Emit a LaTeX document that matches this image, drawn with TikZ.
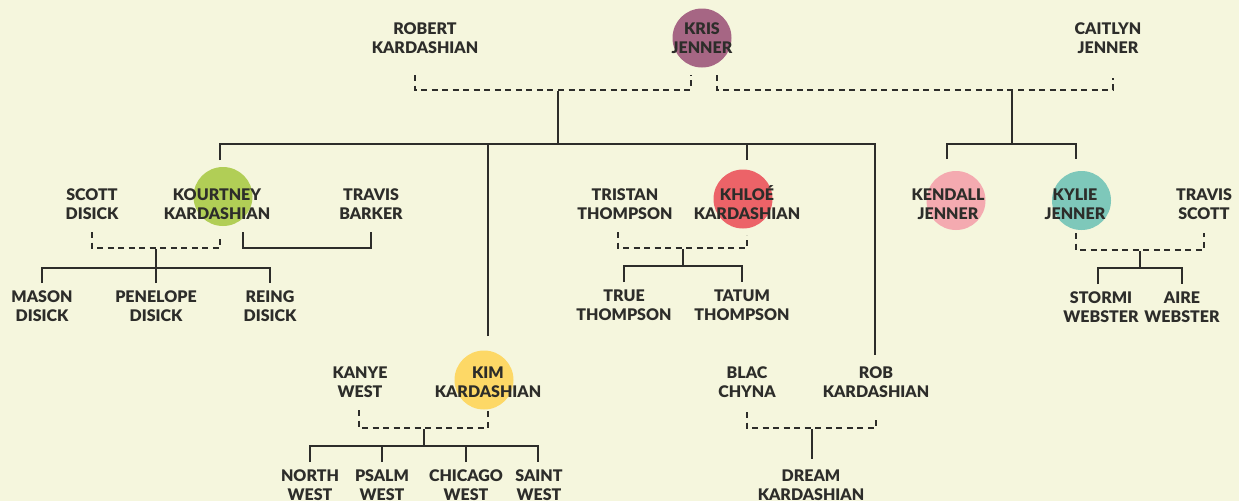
\documentclass[tikz,border=0pt]{standalone}
\usepackage{fontspec}
\setmainfont{Lato}[BoldFont={Lato Black}]
\usetikzlibrary{positioning}

\definecolor{paper}{RGB}{245,246,221}
\definecolor{ink}{RGB}{45,45,42}
\definecolor{krisc}{RGB}{166,102,132}
\definecolor{kourtneyc}{RGB}{177,206,86}
\definecolor{khloec}{RGB}{236,99,104}
\definecolor{kendallc}{RGB}{244,170,176}
\definecolor{kyliec}{RGB}{126,200,186}
\definecolor{kimc}{RGB}{253,216,102}

\begin{document}
\begin{tikzpicture}[
  x=0.75pt, y=-0.75pt,
  font=\fontsize{12}{14.25}\selectfont\bfseries,
  person/.style={align=center, text=ink, inner sep=0pt},
  dot/.style={circle, minimum size=44.25pt, inner sep=0pt},
  bond/.style={draw=ink, line width=1.9pt},
  couple/.style={bond, dash pattern=on 4.5pt off 3.4pt}
]
\fill[paper] (0,0) rectangle (1239,501);
\useasboundingbox (0,0) rectangle (1239,501);

% Circles
\node[dot, fill=krisc]     (kris-dot)     at (702,38)    {};
\node[dot, fill=kourtneyc] (kourtney-dot) at (223,196.5) {};
\node[dot, fill=khloec]    (khloe-dot)    at (743,199)   {};
\node[dot, fill=kendallc]  (kendall-dot)  at (956,200.5) {};
\node[dot, fill=kyliec]    (kylie-dot)    at (1081.5,200.5) {};
\node[dot, fill=kimc]      (kim-dot)      at (484,380)   {};

% Names
\node[person] (kris)     at (702,38)   {KRIS\\JENNER};
\node[person] (robert)   at (425,38)   {ROBERT\\KARDASHIAN};
\node[person] (caitlyn)  at (1108,38)  {CAITLYN\\JENNER};
\node[person] (kourtney) at (217,204)  {KOURTNEY\\KARDASHIAN};
\node[person] (scott)    at (92,204)   {SCOTT\\DISICK};
\node[person] (travisb)  at (371,204)  {TRAVIS\\BARKER};
\node[person] (mason)    at (42,306.5) {MASON\\DISICK};
\node[person] (penelope) at (156,306.5) {PENELOPE\\DISICK};
\node[person] (reing)    at (270,306.5) {REING\\DISICK};
\node[person] (khloe)    at (747,202.5) {KHLOÉ\\KARDASHIAN};
\node[person] (tristan)  at (625,204)  {TRISTAN\\THOMPSON};
\node[person] (true)     at (624,305)  {TRUE\\THOMPSON};
\node[person] (tatum)    at (742,305)  {TATUM\\THOMPSON};
\node[person] (kendall)  at (948,204)  {KENDALL\\JENNER};
\node[person] (kylie)    at (1075,204) {KYLIE\\JENNER};
\node[person] (travis)   at (1204,204) {TRAVIS\\SCOTT};
\node[person] (stormi)   at (1101,307) {STORMI\\WEBSTER};
\node[person] (aire)     at (1182,307) {AIRE\\WEBSTER};
\node[person] (kim)      at (488,382)  {KIM\\KARDASHIAN};
\node[person] (kanye)    at (360,382)  {KANYE\\WEST};
\node[person] (north)    at (310,485)  {NORTH\\WEST};
\node[person] (psalm)    at (382,485)  {PSALM\\WEST};
\node[person] (chicago)  at (466,485)  {CHICAGO\\WEST};
\node[person] (saint)    at (539,485)  {SAINT\\WEST};
\node[person] (blac)     at (747,382)  {BLAC\\CHYNA};
\node[person] (rob)      at (876,382)  {ROB\\KARDASHIAN};
\node[person] (dream)    at (811,485)  {DREAM\\KARDASHIAN};

% Connector ends
\coordinate (robert-d)   at (415,75);
\coordinate (kris-dl)    at (691,75);
\coordinate (kris-dr)    at (717,75);
\coordinate (caitlyn-d)  at (1113,78);
\coordinate (kk)         at (558,91);
\coordinate (kc)         at (1012,91);
\coordinate (kourtney-up) at (220,160);
\coordinate (kim-up)     at (488,336);
\coordinate (khloe-up)   at (747,160);
\coordinate (rob-up)     at (875,355);
\coordinate (kendall-up) at (947,159);
\coordinate (kylie-up)   at (1076,159);

% Top generation
\draw[couple] (robert-d) -- ++(0,15) -| (kris-dl);
\draw[couple] (kris-dr) -- ++(0,15) -| (caitlyn-d);
\draw[bond] (kk) -- ++(0,53);
\draw[bond] (kourtney-up) -- ++(0,-16) -| (rob-up);
\draw[bond] (kim-up) -- ++(0,-192);
\draw[bond] (khloe-up) -- ++(0,-16);
\draw[bond] (kc) -- ++(0,53);
\draw[bond] (kendall-up) -- ++(0,-15) -| (kylie-up);

% Kourtney
\coordinate (scott-d)     at (92,232);
\coordinate (kourtney-d)  at (220,235);
\coordinate (kourtney-t)  at (243,232);
\coordinate (travisb-d)   at (371,232);
\coordinate (sk)          at (156,249);
\coordinate (mason-up)    at (42,283);
\coordinate (penelope-up) at (156,283);
\coordinate (reing-up)    at (270,283);
\draw[couple] (scott-d) -- ++(0,16) -| (kourtney-d);
\draw[bond] (kourtney-t) -- ++(0,16) -| (travisb-d);
\draw[bond] (sk) -- ++(0,19);
\draw[bond] (mason-up) -- ++(0,-15) -| (reing-up);
\draw[bond] (penelope-up) -- ++(0,-15);

% Khloe
\coordinate (tristan-d) at (618,232);
\coordinate (khloe-d)   at (747,235);
\coordinate (tk)        at (683,249);
\coordinate (true-up)   at (624,282);
\coordinate (tatum-up)  at (742,282);
\draw[couple] (tristan-d) -- ++(0,16) -| (khloe-d);
\draw[bond] (tk) -- ++(0,17);
\draw[bond] (true-up) -- ++(0,-16) -| (tatum-up);

% Kylie
\coordinate (kylie-d)  at (1076,233);
\coordinate (travis-d) at (1204,233);
\coordinate (kt)       at (1140,251);
\coordinate (stormi-up) at (1098,284);
\coordinate (aire-up)  at (1182,284);
\draw[couple] (kylie-d) -- ++(0,17) -| (travis-d);
\draw[bond] (kt) -- ++(0,17);
\draw[bond] (stormi-up) -- ++(0,-16) -| (aire-up);

% Kim
\coordinate (kanye-d)    at (359,410);
\coordinate (kim-d)      at (488,410);
\coordinate (kw)         at (424,429);
\coordinate (north-up)   at (310,462);
\coordinate (psalm-up)   at (382,462);
\coordinate (chicago-up) at (466,462);
\coordinate (saint-up)   at (538,462);
\draw[couple] (kanye-d) -- ++(0,18) -| (kim-d);
\draw[bond] (kw) -- ++(0,17);
\draw[bond] (north-up) -- ++(0,-16) -| (saint-up);
\draw[bond] (psalm-up) -- ++(0,-16);
\draw[bond] (chicago-up) -- ++(0,-16);

% Rob
\coordinate (blac-d)   at (747,412);
\coordinate (rob-d)    at (876,416);
\coordinate (rc)       at (812,429);
\coordinate (dream-up) at (812,459);
\draw[couple] (blac-d) -- ++(0,16) -| (rob-d);
\draw[bond] (rc) -- (dream-up);

\end{tikzpicture}
\end{document}
